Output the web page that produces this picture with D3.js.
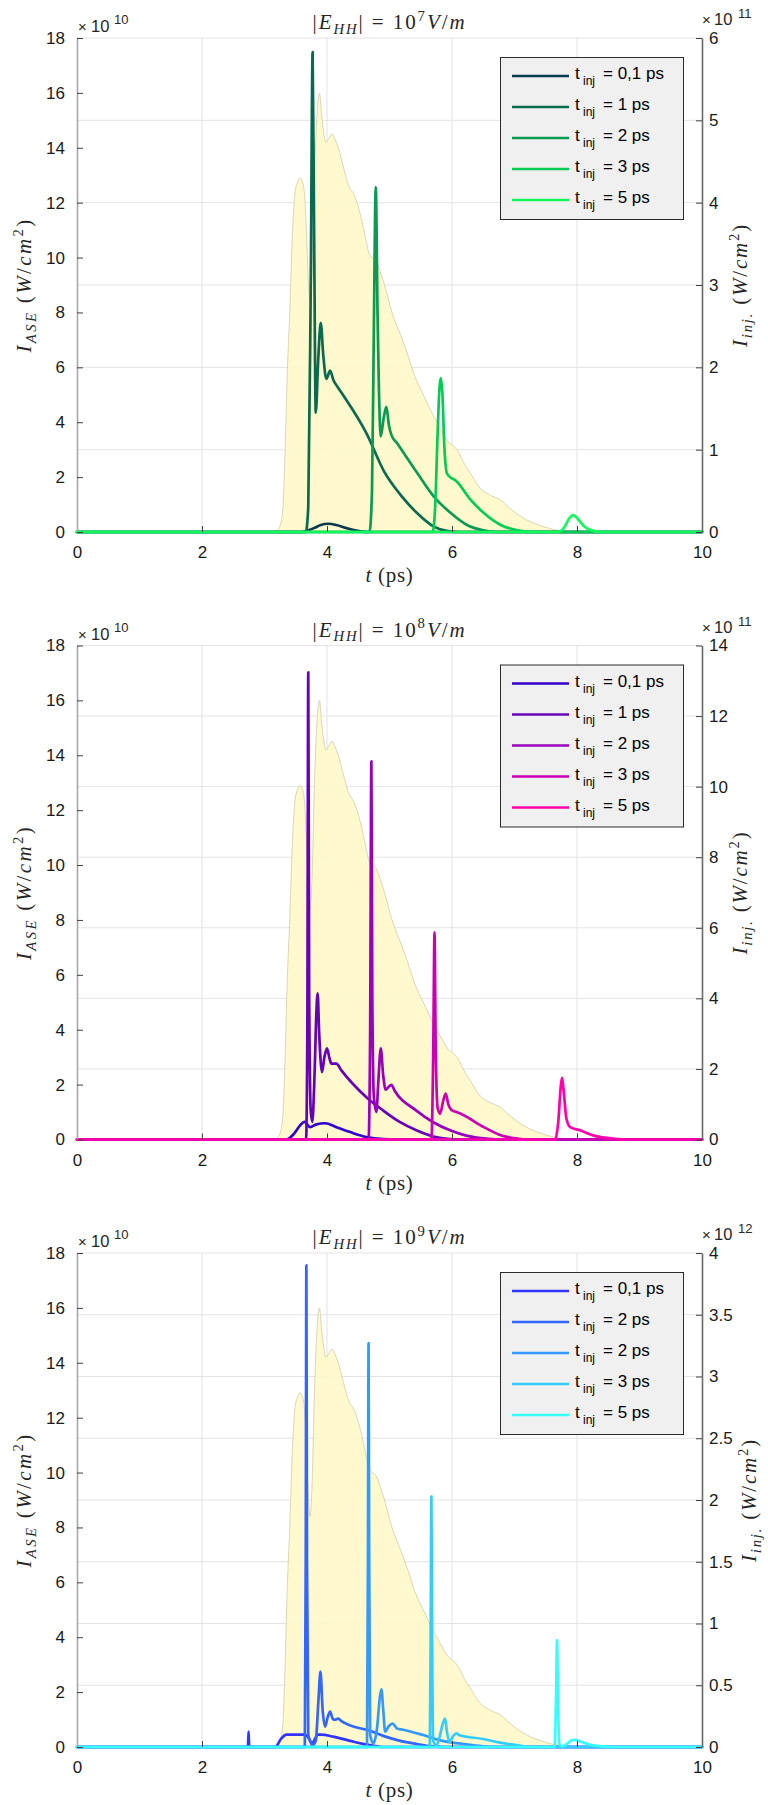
<!DOCTYPE html>
<html><head><meta charset="utf-8">
<script src="https://cdn.jsdelivr.net/npm/d3@7"></script>
<style>body{margin:0;background:#fff;} svg{display:block;}</style>
</head><body>
<svg id="c" width="768" height="1805"></svg>
<script>
// ---------------- DATA ----------------
const xTicks = [0, 2, 4, 6, 8, 10];
const leftTicks = [0, 2, 4, 6, 8, 10, 12, 14, 16, 18];
const leftExp = "10";

// ASE intensity (x1e10 W/cm^2), same in every panel
const aseT = [3.0,3.15,3.22,3.27,3.30,3.33,3.36,3.40,3.45,3.49,3.53,3.57,3.61,3.64,3.67,3.70,3.73,3.76,3.80,3.84,3.88,3.91,3.94,3.98,4.03,4.08,4.13,4.18,4.25,4.35,4.43,4.53,4.60,4.68,4.72,4.78,4.85,4.92,5.04,5.19,5.30,5.40,5.54,5.67,5.81,5.94,6.05,6.12,6.18,6.31,6.45,6.58,6.70,6.76,6.87,7.03,7.25,7.46,7.67,7.88,8.1];
const aseV = [0,0,0.1,0.4,1.1,3.0,5.5,7.8,11.0,12.4,12.75,12.9,12.75,12.3,11.0,9.2,8.4,9.5,13.0,15.2,16.0,15.3,14.7,14.2,14.35,14.5,14.3,14.0,13.4,12.6,12.3,11.6,10.9,10.1,10.0,9.9,9.5,9.0,8.0,7.1,6.4,5.7,5.0,4.38,3.78,3.29,3.08,2.85,2.56,2.08,1.59,1.38,1.25,1.2,0.98,0.68,0.38,0.2,0.07,0.02,0];

const fieldExps = ["7", "8", "9"];
const rightExps = ["11", "11", "12"];
const rightMax = [6, 14, 4];
const rightTicks1 = [0, 1, 2, 3, 4, 5, 6];
const rightTicks2 = [0, 2, 4, 6, 8, 10, 12, 14];
const rightTicks3 = [0, 0.5, 1, 1.5, 2, 2.5, 3, 3.5, 4];

const legend1 = ["0,1 ps", "1 ps", "2 ps", "3 ps", "5 ps"];
const legend2 = ["0,1 ps", "1 ps", "2 ps", "3 ps", "5 ps"];
const legend3 = ["0,1 ps", "2 ps", "2 ps", "3 ps", "5 ps"];

const colors1 = ["#083a4d", "#0a6a50", "#0a9a52", "#05cc55", "#10fa5c"];
const colors2 = ["#3300cc", "#6600bb", "#9900bb", "#cc00b3", "#ff00aa"];
const colors3 = ["#3333ff", "#3366ff", "#3399ff", "#33ccff", "#33ffff"];

// Panel 1 injected intensity (x1e11)
const p1s0 = [[0,0],[3.6,0],[3.7,0.02],[3.8,0.05],[3.9,0.085],[4.02,0.1],[4.15,0.085],[4.3,0.05],[4.45,0.02],[4.65,0],[10,0]];
const p1s1 = [[0,0],[3.66,0],[3.70,0.3],[3.74,3.0],[3.77,5.83],[3.795,3.5],[3.82,1.45],[3.86,2.1],[3.90,2.54],[3.94,2.15],[3.99,1.86],[4.05,1.96],[4.10,1.85],[4.18,1.75],[4.26,1.66],[4.63,1.2],[4.91,0.74],[5.2,0.43],[5.44,0.23],[5.71,0.065],[5.93,0.01],[6.1,0],[10,0]];
const p1s2 = [[0,0],[4.68,0],[4.72,0.5],[4.75,2.5],[4.78,4.19],[4.81,2.6],[4.86,1.16],[4.91,1.4],[4.95,1.52],[4.99,1.3],[5.03,1.18],[5.12,1.08],[5.45,0.71],[5.71,0.43],[5.98,0.23],[6.24,0.085],[6.5,0.02],[6.7,0],[10,0]];
const p1s3 = [[0,0],[5.69,0],[5.73,0.3],[5.77,1.2],[5.80,1.75],[5.82,1.87],[5.845,1.7],[5.88,1.0],[5.92,0.71],[5.98,0.66],[6.05,0.63],[6.3,0.39],[6.51,0.23],[6.78,0.085],[7.05,0.02],[7.3,0],[10,0]];
const p1s4 = [[0,0],[7.7,0],[7.8,0.06],[7.88,0.17],[7.94,0.206],[8.0,0.17],[8.1,0.08],[8.2,0.03],[8.38,0],[10,0]];

// Panel 2 injected intensity (x1e11)
const p2s0 = [[0,0],[3.35,0],[3.47,0.16],[3.57,0.4],[3.64,0.5],[3.73,0.35],[3.83,0.43],[3.97,0.46],[4.15,0.35],[4.37,0.21],[4.63,0.07],[4.9,0.01],[5.1,0],[10,0]];
const p2s1 = [[0,0],[3.665,0],[3.685,3],[3.70,13.24],[3.715,4],[3.74,0.8],[3.765,0.5],[3.80,1.8],[3.83,3.6],[3.85,4.14],[3.875,3.0],[3.92,1.91],[3.96,2.35],[4.0,2.58],[4.04,2.3],[4.07,2.15],[4.15,2.15],[4.23,1.96],[4.63,1.2],[4.9,0.82],[5.17,0.49],[5.43,0.26],[5.70,0.085],[5.97,0.01],[6.1,0],[10,0]];
const p2s2 = [[0,0],[4.665,0],[4.69,3],[4.71,10.72],[4.725,4],[4.75,1.2],[4.79,0.78],[4.82,1.6],[4.86,2.58],[4.90,1.8],[4.94,1.41],[4.99,1.5],[5.03,1.55],[5.08,1.39],[5.43,0.82],[5.70,0.49],[5.97,0.26],[6.23,0.11],[6.5,0.03],[6.75,0],[10,0]];
const p2s3 = [[0,0],[5.67,0],[5.70,2.5],[5.72,5.87],[5.74,2.5],[5.77,0.9],[5.81,0.73],[5.86,1.1],[5.90,1.30],[5.94,1.0],[5.99,0.84],[6.07,0.78],[6.14,0.73],[6.51,0.35],[6.78,0.12],[7.03,0.03],[7.2,0],[10,0]];
const p2s4 = [[0,0],[7.65,0],[7.70,0.5],[7.74,1.5],[7.76,1.75],[7.785,1.4],[7.83,0.6],[7.89,0.35],[8.05,0.26],[8.27,0.11],[8.6,0.02],[8.8,0],[10,0]];

// Panel 3 injected intensity (x1e12)
const p3s0 = [[0,0],[2.735,0],[2.745,0.124],[2.755,0],[3.17,0],[3.27,0.07],[3.35,0.10],[3.62,0.10],[3.68,0.09],[3.72,0.06],[3.76,0.02],[3.80,0.06],[3.86,0.10],[3.91,0.10],[4.1,0.084],[4.37,0.05],[4.63,0.02],[4.9,0],[10,0]];
const p3s1 = [[0,0],[3.645,0],[3.66,1.5],[3.67,3.90],[3.68,1.5],[3.70,0.1],[3.73,0.05],[3.78,0.02],[3.82,0.05],[3.86,0.35],[3.895,0.61],[3.93,0.3],[3.97,0.165],[4.01,0.24],[4.05,0.286],[4.09,0.23],[4.12,0.22],[4.18,0.23],[4.23,0.21],[4.72,0.125],[4.9,0.09],[5.17,0.05],[5.43,0.025],[5.7,0.005],[5.9,0],[10,0]];
const p3s2 = [[0,0],[4.64,0],[4.655,1.5],[4.665,3.27],[4.675,1.5],[4.69,0.1],[4.74,0.03],[4.80,0.15],[4.845,0.4],[4.87,0.467],[4.90,0.3],[4.93,0.124],[4.99,0.17],[5.05,0.19],[5.12,0.15],[5.22,0.14],[5.54,0.097],[5.85,0.05],[6.18,0.024],[6.5,0.005],[6.7,0],[10,0]];
const p3s3 = [[0,0],[5.645,0],[5.66,1.0],[5.67,2.03],[5.68,1.0],[5.70,0.05],[5.75,0.01],[5.80,0.08],[5.86,0.2],[5.89,0.23],[5.92,0.12],[5.96,0.043],[6.02,0.09],[6.07,0.11],[6.12,0.095],[6.5,0.065],[6.77,0.035],[7.03,0.015],[7.3,0],[10,0]];
const p3s4 = [[0,0],[7.64,0],[7.665,0.4],[7.68,0.866],[7.695,0.4],[7.72,0.02],[7.76,0.005],[7.85,0.03],[7.92,0.055],[7.97,0.057],[8.05,0.045],[8.2,0.02],[8.4,0.005],[8.6,0],[10,0]];

// ---------------- LAYOUT ----------------
const panels = [
  {top: 38,    rLabelX: 747, exp: fieldExps[0], rExp: rightExps[0], rMax: rightMax[0], rTicks: rightTicks1, legend: legend1, colors: colors1, series: [p1s0,p1s1,p1s2,p1s3,p1s4]},
  {top: 645.5, rLabelX: 747, exp: fieldExps[1], rExp: rightExps[1], rMax: rightMax[1], rTicks: rightTicks2, legend: legend2, colors: colors2, series: [p2s0,p2s1,p2s2,p2s3,p2s4]},
  {top: 1253,  rLabelX: 756, exp: fieldExps[2], rExp: rightExps[2], rMax: rightMax[2], rTicks: rightTicks3, legend: legend3, colors: colors3, series: [p3s0,p3s1,p3s2,p3s3,p3s4]}
];
const L = 77, R = 702, H = 494;
const SANS = "'Liberation Sans', Arial, Helvetica, sans-serif";
const SERIF = "'Liberation Serif', 'Times New Roman', serif";
const svg = d3.select("#c");

function mathText(g, parts, fs, attrs) {
  const t = g.append("text").attr("font-family", SERIF).attr("font-size", fs).attr("fill", "#262626");
  for (const k in attrs) t.attr(k, attrs[k]);
  let shift = 0;
  parts.forEach(p => {
    const ts = t.append("tspan").text(p.t);
    let target = 0, size = fs;
    if (p.sub) { target = 0.22 * fs; size = fs * 0.7; }
    if (p.sup) { target = -0.4 * fs; size = fs * 0.7; }
    ts.attr("font-size", size).attr("dy", target - shift);
    shift = target;
    if (p.i) ts.attr("font-style", "italic");
  });
  return t;
}
function fitWidth(t, w) {
  const node = t.node();
  const cur = node.getComputedTextLength();
  const n = node.textContent.length;
  t.style("letter-spacing", ((w - cur) / n) + "px");
}

panels.forEach(p => {
  const top = p.top, bot = top + H;
  const g = svg.append("g");
  const x = d3.scaleLinear().domain([0, 10]).range([L, R]);
  const yL = d3.scaleLinear().domain([0, 18]).range([bot, top]);
  const yR = d3.scaleLinear().domain([0, p.rMax]).range([bot, top]);

  // grid
  g.append("g").selectAll("line.v").data(xTicks.filter(d => d > 0 && d < 10)).join("line")
    .attr("x1", d => x(d)).attr("x2", d => x(d)).attr("y1", top).attr("y2", bot)
    .attr("stroke", "#e3e3e3").attr("stroke-width", 1);
  g.append("g").selectAll("line.h").data(p.rTicks.filter(d => d > 0)).join("line")
    .attr("x1", L).attr("x2", R).attr("y1", d => yR(d)).attr("y2", d => yR(d))
    .attr("stroke", "#e3e3e3").attr("stroke-width", 1);

  // ASE area
  const aseData = aseT.map((t, i) => [t, aseV[i]]);
  const area = d3.area().x(d => x(d[0])).y0(yL(0)).y1(d => yL(d[1])).curve(d3.curveMonotoneX);
  g.append("path").datum(aseData).attr("d", area)
    .attr("fill", "#fff8c6").attr("fill-opacity", 0.88)
    .attr("stroke", "#c2bc98").attr("stroke-opacity", 0.75).attr("stroke-width", 0.8);

  // lines
  const line = d3.line().x(d => x(d[0])).y(d => yR(d[1])).curve(d3.curveMonotoneX);
  p.series.forEach((s, i) => {
    g.append("path").datum(s).attr("d", line).attr("fill", "none")
      .attr("stroke", p.colors[i]).attr("stroke-width", 2.7)
      .attr("stroke-linejoin", "round").attr("stroke-linecap", "round");
  });

  // axes
  const ax = g.append("g").attr("transform", `translate(0,${bot})`)
    .call(d3.axisBottom(x).tickValues(xTicks).tickSizeInner(-6).tickSizeOuter(0).tickPadding(14).tickFormat(d3.format("d")));
  ax.select(".domain").remove();
  ax.selectAll(".tick line").attr("stroke", "#404040");
  ax.selectAll(".tick text").attr("font-family", SANS).attr("font-size", 17).attr("fill", "#1a1a1a");

  const al = g.append("g").attr("transform", `translate(${L},0)`)
    .call(d3.axisLeft(yL).tickValues(leftTicks).tickSizeInner(-6).tickSizeOuter(0).tickPadding(12).tickFormat(d3.format("d")));
  al.select(".domain").attr("stroke", "#a8a8a8").attr("stroke-width", 1.6);
  al.selectAll(".tick line").attr("stroke", "#404040");
  al.selectAll(".tick text").attr("font-family", SANS).attr("font-size", 17).attr("fill", "#1a1a1a");

  const ar = g.append("g").attr("transform", `translate(${R},0)`)
    .call(d3.axisRight(yR).tickValues(p.rTicks).tickSizeInner(-6).tickSizeOuter(0).tickPadding(7).tickFormat(d => String(d)));
  ar.select(".domain").attr("stroke", "#6a6a6a").attr("stroke-width", 1.6);
  ar.selectAll(".tick line").attr("stroke", "#404040");
  ar.selectAll(".tick text").attr("font-family", SANS).attr("font-size", 17).attr("fill", "#1a1a1a");

  // exponent labels
  g.append("text").attr("x", 78).attr("y", top - 6).attr("font-family", SANS).attr("font-size", 15).attr("fill", "#262626").text("×");
  g.append("text").attr("x", 91).attr("y", top - 6).attr("font-family", SANS).attr("font-size", 16.5).attr("fill", "#262626").text("10");
  g.append("text").attr("x", 114).attr("y", top - 14).attr("font-family", SANS).attr("font-size", 13).attr("fill", "#262626").text(leftExp);
  g.append("text").attr("x", 702).attr("y", top - 13).attr("font-family", SANS).attr("font-size", 15).attr("fill", "#262626").text("×");
  g.append("text").attr("x", 714).attr("y", top - 13).attr("font-family", SANS).attr("font-size", 16.5).attr("fill", "#262626").text("10");
  g.append("text").attr("x", 738).attr("y", top - 20).attr("font-family", SANS).attr("font-size", 13).attr("fill", "#262626").text(p.rExp);

  // title
  const title = mathText(g, [
    {t: "|"}, {t: "E", i: true}, {t: "HH", i: true, sub: true}, {t: "| = 10"},
    {t: p.exp, sup: true}, {t: "V", i: true}, {t: "/"}, {t: "m", i: true}
  ], 21, {x: (L + R) / 2, y: top - 9, "text-anchor": "middle"});
  fitWidth(title, 154);

  // x label
  const xl = mathText(g, [{t: "t", i: true}, {t: " (ps)"}], 21, {x: (L + R) / 2, y: bot + 50, "text-anchor": "middle"});
  fitWidth(xl, 48);

  // y labels
  const cy = (top + bot) / 2;
  const ylL = mathText(g, [
    {t: "I", i: true}, {t: "ASE", i: true, sub: true}, {t: " ("}, {t: "W", i: true}, {t: "/"},
    {t: "cm", i: true}, {t: "2", sup: true}, {t: ")"}
  ], 21, {transform: `translate(31,${cy}) rotate(-90)`, "text-anchor": "middle"});
  fitWidth(ylL, 135);
  const ylR = mathText(g, [
    {t: "I", i: true}, {t: "inj.", i: true, sub: true}, {t: " ("}, {t: "W", i: true}, {t: "/"},
    {t: "cm", i: true}, {t: "2", sup: true}, {t: ")"}
  ], 21, {transform: `translate(${p.rLabelX},${cy}) rotate(-90)`, "text-anchor": "middle"});
  fitWidth(ylR, 124);

  // legend
  const lg = g.append("g");
  lg.append("rect").attr("x", 500.5).attr("y", top + 19.5).attr("width", 183).attr("height", 162)
    .attr("fill", "#f0f0f0").attr("stroke", "#2a2a2a").attr("stroke-width", 1);
  p.legend.forEach((lab, i) => {
    const ly = top + 38 + i * 31;
    lg.append("line").attr("x1", 512).attr("x2", 569).attr("y1", ly).attr("y2", ly)
      .attr("stroke", p.colors[i]).attr("stroke-width", 2.7);
    const tx = lg.append("text").attr("font-family", SANS).attr("fill", "#000").attr("y", ly + 3);
    tx.append("tspan").attr("x", 575).attr("font-size", 17).text("t");
    tx.append("tspan").attr("x", 583).attr("dy", 6).attr("font-size", 12).text("inj");
    tx.append("tspan").attr("x", 603).attr("dy", -6).attr("font-size", 17).text("= " + lab);
  });
});
</script>
</body></html>
